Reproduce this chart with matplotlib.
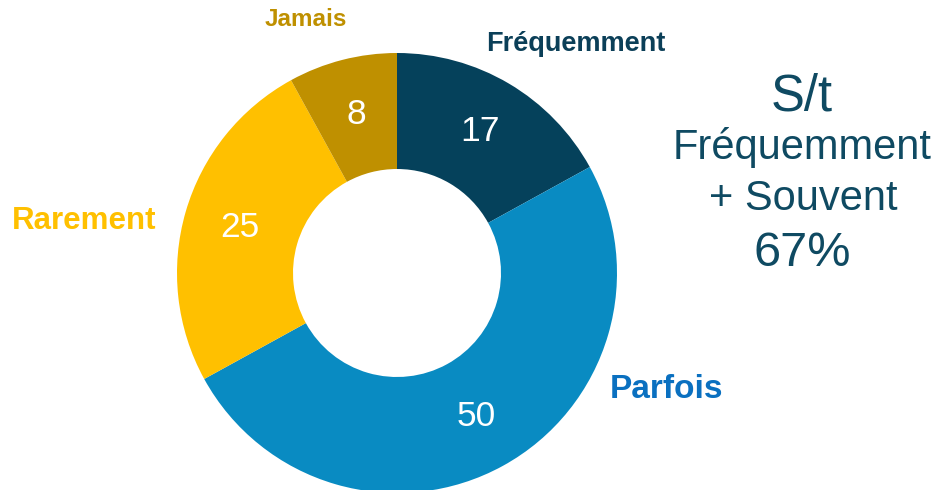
import numpy as np
import matplotlib
matplotlib.use('Agg')
import matplotlib.pyplot as plt

plt.rcParams['font.family'] = ['Liberation Sans', 'DejaVu Sans']

categories = ['Fréquemment', 'Parfois', 'Rarement', 'Jamais']
values = [17, 50, 25, 8]
colors = ['#05415B', '#098BC2', '#FFC000', '#BF9000']
label_colors = ['#0B3F58', '#0A70C0', '#FFC000', '#BF9000']

W, H = 939, 490
fig = plt.figure(figsize=(W / 100, H / 100), dpi=100)
ax = fig.add_axes([0, 0, 1, 1])

cx, cy = 397, H - 273
R, r_in = 220, 104

wedges, _ = ax.pie(values, colors=colors, startangle=90, counterclock=False,
                   center=(cx, cy), radius=R, frame=True,
                   wedgeprops=dict(width=R - r_in, linewidth=0))
ax.set_xlim(0, W)
ax.set_ylim(0, H)
ax.set_aspect('equal')
ax.axis('off')

# value labels in the middle of the ring
mid_r = (R + r_in) / 2 + 2
for w, v in zip(wedges, values):
    ang = np.deg2rad((w.theta1 + w.theta2) / 2)
    ax.text(cx + mid_r * np.cos(ang), cy + mid_r * np.sin(ang), str(v),
            color='white', fontsize=25.5, ha='center', va='center')

# category labels (placed by hand like the original)
cat_pos = {'Fréquemment': (576, 44, 19.5), 'Parfois': (667, 389, 24),
           'Rarement': (84, 221, 22.5), 'Jamais': (306, 20, 17.5)}
for c, col in zip(categories, label_colors):
    x, y, fs = cat_pos[c]
    ax.text(x, H - y, c, color=col, fontsize=fs, fontweight='bold',
            ha='center', va='center')

# summary text on the right
txt_col = '#0F4A62'
ax.text(802, H - 97, 'S/t', color=txt_col, fontsize=36.5, ha='center', va='center')
ax.text(802, H - 148, 'Fréquemment', color=txt_col, fontsize=30, ha='center', va='center')
ax.text(803, H - 199, '+ Souvent', color=txt_col, fontsize=30, ha='center', va='center')
ax.text(802, H - 254, '67%', color=txt_col, fontsize=35, ha='center', va='center')

fig.savefig('out.png', dpi=100, facecolor='white')
